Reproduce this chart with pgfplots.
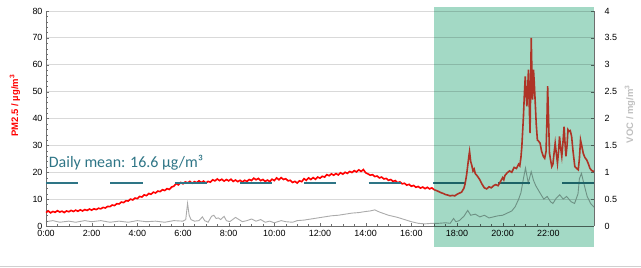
\documentclass[border=0pt]{standalone}
\usepackage{pgfplots}
\pgfplotsset{compat=1.18}
\usepackage{fontspec}
\setmainfont{Liberation Sans}
\newfontfamily\carlito{Carlito}
\definecolor{pmred}{HTML}{FF0000}
\definecolor{pmdark}{HTML}{AE3426}
\definecolor{vocgray}{HTML}{ABABAB}
\definecolor{meanteal}{HTML}{2E7586}
\definecolor{greenov}{HTML}{A3D9C5}
\definecolor{gridgray}{HTML}{D9D9D9}
\definecolor{axgray}{HTML}{6E6E6E}
\definecolor{labgray}{HTML}{BFBFBF}
\begin{document}
\begin{tikzpicture}
\useasboundingbox (-46bp,-42bp) rectangle (595bp,226bp);
\draw[color=gridgray!90!gray, line width=1.5bp] (-46bp,-40.5bp) -- (595bp,-40.5bp);
% VOC axis (right)
\begin{axis}[
  at={(0,0)}, anchor=south west,
  scale only axis, width=548bp, height=215bp,
  xmin=0, xmax=24, ymin=0, ymax=4,
  hide x axis,
  axis y line*=right,
  ytick={0,0.5,...,4},
  yticklabels={0,0.5,1,1.5,2,2.5,3,3.5,4},
  ymajorgrids, major grid style={color=gridgray, line width=0.8bp},
  y axis line style={color=axgray, line width=0.8bp},
  ytick style={color=axgray},
  major tick length=3bp,
  yticklabel style={font=\fontsize{9}{10}\selectfont, color=black, xshift=7bp},
  /pgf/number format/assume math mode=true,
]
\addplot[color=vocgray, line width=0.9bp] coordinates {
(0.0,0.08) (0.3,0.10) (0.6,0.07) (1.0,0.09) (1.3,0.07) (1.7,0.10) (2.0,0.08) (2.4,0.10) (2.8,0.07) (3.2,0.09)
(3.6,0.07) (4.0,0.10) (4.4,0.08) (4.8,0.09) (5.2,0.07) (5.6,0.10) (6.0,0.09) (6.12,0.12) (6.2,0.42) (6.27,0.20)
(6.35,0.12) (6.5,0.09) (6.7,0.10) (6.85,0.17) (6.95,0.10) (7.1,0.07) (7.25,0.18) (7.35,0.20) (7.45,0.14) (7.55,0.15)
(7.65,0.12) (7.8,0.18) (7.9,0.10) (8.05,0.08) (8.3,0.16) (8.45,0.12) (8.6,0.08) (8.8,0.10) (9.0,0.13) (9.2,0.09)
(9.4,0.12) (9.6,0.07) (9.8,0.09) (10.0,0.06) (10.3,0.10) (10.5,0.08) (10.8,0.07) (11.0,0.10) (11.3,0.11) (11.6,0.13)
(11.9,0.15) (12.2,0.17) (12.5,0.19) (12.8,0.20) (13.1,0.22) (13.4,0.24) (13.7,0.25) (14.0,0.27) (14.2,0.28) (14.4,0.30)
(14.6,0.26) (14.8,0.23) (15.0,0.20) (15.2,0.18) (15.4,0.16) (15.7,0.12) (16.0,0.08) (16.3,0.05) (16.6,0.04) (16.9,0.05)
(17.2,0.05) (17.5,0.06) (17.7,0.05) (17.85,0.14) (17.95,0.08) (18.1,0.10) (18.3,0.18) (18.47,0.29) (18.6,0.20) (18.8,0.22)
(19.0,0.17) (19.2,0.20) (19.4,0.15) (19.6,0.17) (19.8,0.19) (20.0,0.20) (20.2,0.24) (20.4,0.28) (20.55,0.36) (20.7,0.50)
(20.8,0.62) (20.9,0.86) (21.0,1.08) (21.12,0.80) (21.25,1.01) (21.35,0.85) (21.45,0.75) (21.6,0.64) (21.8,0.50) (21.95,0.55)
(22.1,0.45) (22.2,0.42) (22.35,0.52) (22.5,0.58) (22.65,0.50) (22.8,0.55) (23.0,0.45) (23.15,0.42) (23.3,0.60) (23.36,0.88)
(23.45,0.98) (23.55,0.80) (23.7,0.55) (23.85,0.42) (24.0,0.35)
};
\end{axis}
% PM2.5 axis (left)
\begin{axis}[
  at={(0,0)}, anchor=south west,
  scale only axis, width=548bp, height=215bp,
  xmin=0, xmax=24, ymin=0, ymax=80,
  clip=false,
  axis x line*=bottom, axis y line*=left,
  xtick={0,2,...,22},
  xticklabels={0:00,2:00,4:00,6:00,8:00,10:00,12:00,14:00,16:00,18:00,20:00,22:00},
  minor x tick num=3,
  ytick={0,10,...,80},
  minor y tick num=4,
  axis line style={color=axgray, line width=0.8bp},
  tick style={color=axgray},
  major tick length=3bp, minor tick length=2bp,
  tick label style={font=\fontsize{9}{10}\selectfont, color=black},
  xticklabel style={yshift=-1bp},
  /pgf/number format/assume math mode=true,
]
\addplot[color=pmred, line width=1.6bp] coordinates {
(0.0,5.0) (0.1,5.6) (0.2,4.9) (0.3,5.4) (0.4,5.1) (0.5,5.7) (0.6,5.2) (0.7,5.5) (0.8,5.0) (0.9,5.6)
(1.0,5.3) (1.1,5.8) (1.2,5.4) (1.3,5.9) (1.4,5.5) (1.5,6.0) (1.6,5.6) (1.7,6.1) (1.8,5.8) (1.9,6.3)
(2.0,5.9) (2.1,6.4) (2.2,6.1) (2.3,6.6) (2.4,6.4) (2.5,6.9) (2.6,6.7) (2.7,7.3) (2.8,7.2) (2.9,7.8)
(3.0,7.6) (3.1,8.3) (3.2,8.2) (3.3,8.9) (3.4,8.7) (3.5,9.4) (3.6,9.3) (3.7,10.0) (3.8,9.7) (3.9,10.4)
(4.0,10.2) (4.1,11.0) (4.2,10.8) (4.3,11.6) (4.4,11.3) (4.5,12.1) (4.6,11.8) (4.7,12.6) (4.8,12.3) (4.9,13.0)
(5.0,12.8) (5.1,13.5) (5.2,13.2) (5.3,13.9) (5.4,13.6) (5.5,14.5) (5.6,14.8) (5.7,15.8) (5.8,15.3) (5.9,16.2)
(6.0,15.7) (6.1,16.4) (6.2,16.0) (6.3,16.6) (6.4,15.9) (6.5,16.5) (6.6,16.1) (6.7,16.8) (6.8,16.2) (6.9,16.7)
(7.0,16.0) (7.1,16.6) (7.2,16.3) (7.3,17.2) (7.4,16.8) (7.5,17.5) (7.6,16.9) (7.7,17.4) (7.8,16.7) (7.9,17.3)
(8.0,16.8) (8.1,17.4) (8.2,16.6) (8.3,17.1) (8.4,16.5) (8.5,17.0) (8.6,16.4) (8.7,17.0) (8.8,16.6) (8.9,17.3)
(9.0,16.9) (9.1,17.8) (9.2,17.2) (9.3,17.7) (9.4,16.9) (9.5,17.3) (9.6,16.6) (9.7,17.1) (9.8,16.5) (9.9,17.4)
(10.0,16.9) (10.1,17.9) (10.2,17.2) (10.3,18.0) (10.4,17.3) (10.5,17.6) (10.6,16.8) (10.7,17.0) (10.8,16.2) (10.9,16.6)
(11.0,16.0) (11.1,16.8) (11.2,16.5) (11.3,17.6) (11.4,17.0) (11.5,17.9) (11.6,17.3) (11.7,18.0) (11.8,17.4) (11.9,18.2)
(12.0,17.8) (12.1,18.5) (12.2,18.2) (12.3,19.1) (12.4,18.7) (12.5,19.4) (12.6,18.9) (12.7,19.5) (12.8,19.0) (12.9,19.8)
(13.0,19.3) (13.1,20.0) (13.2,19.6) (13.3,20.3) (13.4,19.9) (13.5,20.6) (13.6,20.1) (13.7,20.9) (13.8,20.3) (13.9,21.0)
(14.0,19.8) (14.1,19.4) (14.2,18.9) (14.3,19.1) (14.4,18.4) (14.5,18.6) (14.6,17.9) (14.7,18.2) (14.8,17.5) (14.9,17.7)
(15.0,17.0) (15.1,17.3) (15.2,16.6) (15.3,16.9) (15.4,16.1) (15.5,16.4) (15.6,15.7) (15.7,15.9) (15.8,15.2) (15.9,15.5)
(16.0,14.8) (16.1,15.1) (16.2,14.4) (16.3,14.7) (16.4,14.1) (16.5,14.5) (16.6,13.9) (16.7,14.4) (16.8,13.8) (16.9,14.2)
(17.0,13.5)
};
\addplot[color=meanteal, line width=2.5bp, dash pattern=on 32bp off 32.5bp, line cap=butt] coordinates {(0,16) (24,16)};
\node[anchor=base west, inner sep=0pt, text=meanteal, font=\carlito\fontsize{16}{18}\selectfont] at (axis cs:0.12,21.6) {Daily mean: 16.6 µg/m³};
\fill[fill=greenov, blend mode=multiply] (axis cs:17,-7.8) rectangle (axis cs:24,81.5);
\addplot[color=pmdark, line width=1.6bp] coordinates {
(17.0,13.5) (17.1,13.2) (17.2,12.8) (17.3,12.4) (17.4,12.1) (17.5,11.7) (17.6,11.5) (17.7,11.2) (17.8,11.4) (17.9,11.2)
(18.0,11.8) (18.1,12.2) (18.2,12.6) (18.3,14.0) (18.35,15.5) (18.42,19.0) (18.47,22.5) (18.52,26.0) (18.55,27.7) (18.6,24.0)
(18.65,22.5) (18.7,20.5) (18.75,21.2) (18.8,19.5) (18.9,18.5) (19.0,17.2) (19.1,15.5) (19.2,14.2) (19.3,13.8) (19.4,14.6)
(19.5,14.2) (19.6,15.0) (19.7,15.4) (19.8,15.0) (19.9,16.5) (20.0,18.0) (20.05,17.2) (20.1,18.8) (20.2,19.8) (20.3,20.5)
(20.4,20.0) (20.5,21.8) (20.6,21.4) (20.7,23.0) (20.75,22.4) (20.8,25.5) (20.84,29.6) (20.88,36.0) (20.91,40.8) (20.95,49.0)
(20.99,55.7) (21.02,50.0) (21.06,44.5) (21.1,52.0) (21.13,58.2) (21.16,46.0) (21.2,34.6) (21.22,48.0) (21.25,70.0) (21.28,58.0)
(21.31,47.0) (21.33,52.0) (21.35,58.2) (21.38,54.0) (21.42,47.0) (21.47,38.0) (21.52,32.0) (21.58,31.5) (21.64,30.8) (21.7,28.0)
(21.78,25.9) (21.84,25.2) (21.9,27.7) (21.94,40.0) (21.97,52.0) (22.01,40.0) (22.05,27.1) (22.1,24.5) (22.15,22.1) (22.2,23.0)
(22.25,27.0) (22.3,30.8) (22.35,27.0) (22.4,23.4) (22.45,28.0) (22.49,33.3) (22.54,29.0) (22.59,25.9) (22.64,31.0) (22.69,37.0)
(22.73,31.0) (22.77,25.9) (22.82,30.0) (22.86,35.8) (22.9,35.2) (22.96,35.5) (23.02,33.3) (23.08,28.0) (23.16,22.1) (23.23,21.5)
(23.31,20.9) (23.36,25.0) (23.41,32.0) (23.46,30.0) (23.53,27.0) (23.6,25.5) (23.68,24.6) (23.75,23.2) (23.82,21.5) (23.9,20.6)
(24.0,20.3)
};
\node[rotate=90, anchor=center, inner sep=0pt, text=pmred, font=\bfseries\fontsize{9.5}{11}\selectfont] at ([xshift=-31bp]rel axis cs:0,0.56) {PM2.5 / µg/m\textsuperscript{3}};
\node[rotate=90, anchor=center, inner sep=0pt, text=labgray, font=\bfseries\fontsize{9.5}{11}\selectfont] at ([xshift=36bp]rel axis cs:1,0.52) {VOC / mg/m\textsuperscript{3}};
\end{axis}
\end{tikzpicture}
\end{document}
